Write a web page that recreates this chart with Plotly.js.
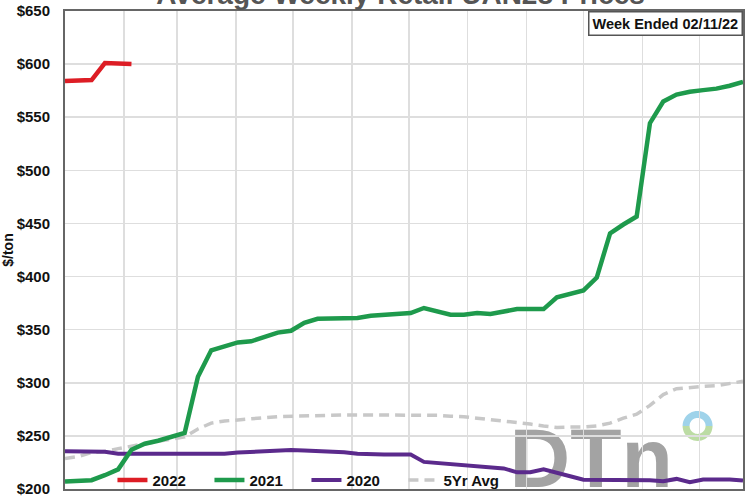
<!DOCTYPE html>
<html>
<head>
<meta charset="utf-8">
<script src="https://cdn.plot.ly/plotly-3.0.1.min.js"></script>
<style>html,body{margin:0;padding:0;background:#fff;}#chart{width:750px;height:500px;}</style>
</head>
<body>
<div id="chart"></div>
<script>
// Week numbers (week 1 .. week 52)
var weeks = [];
for (var i = 1; i <= 52; i++) weeks.push(i);

// Month start days (day of year) -> week units for vertical gridlines
var monthStartDays = [31, 59, 90, 120, 151, 181, 212, 243, 273, 304, 334];

var prices2022 = [584, 584, 585, 601, 600, 600];

var prices2021 = [207, 207.5, 208.3, 213, 218.5, 237, 242.6, 245.4, 249, 252.8,
  305.6, 330.6, 334.3, 338, 339, 343.5, 347.2, 349, 356.5, 360.2,
  360.2, 360.2, 361, 363, 364, 364.8, 365.7, 370.4, 366.7, 364,
  364, 365.7, 364.8, 367.6, 369.4, 369.4, 369.4, 380.5, 383.3, 387,
  399, 440.7, 449, 456.5, 544.4, 564.8, 571.3, 574, 575.5, 576.9,
  579.6, 583.3];

var prices2020 = [235.6, 235.6, 235.6, 235, 233.3, 233.3, 233.3, 233.3, 233.3, 233.3,
  233.3, 233.3, 233.3, 234.3, 235, 235.6, 236.6, 236.8, 236.3, 236,
  235.6, 234.7, 233.3, 232.4, 232.4, 232.4, 232.4, 225.5, 224.5, 223.1,
  222.5, 221.8, 220.8, 219.4, 215.7, 215.7, 218.5, 215.7, 212, 208.8,
  208.8, 209, 209, 208.8, 208.3, 207.4, 209.5, 206.5, 209, 209,
  209, 207.9];

var avg5yr = [228.7, 230.6, 234.3, 235.2, 238, 240.7, 242.6, 244.9, 246.8, 249,
  256.5, 262, 264, 264.8, 266.2, 267.1, 268.1, 268.5, 269, 269.4,
  269.7, 269.7, 269.7, 269.7, 269.7, 269.7, 269.7, 269.7, 269.4, 268.5,
  268.1, 266.7, 265.3, 264, 263, 261.1, 259.3, 257.9, 258.3, 258.3,
  259.3, 262, 266.7, 270.4, 278.7, 288.9, 294.4, 295.8, 296.6, 297.2,
  299.1, 301.4];

var yTicks = [200, 250, 300, 350, 400, 450, 500, 550, 600, 650];
var yTickText = yTicks.map(function (v) { return '$' + v; });
var monthTicks = monthStartDays.map(function (d) { return d / 7 + 1; });

var FONT = 'Liberation Sans, Arial, sans-serif';

var traces = [
  {x: weeks, y: avg5yr, name: '5Yr Avg', type: 'scatter', mode: 'lines',
   line: {color: '#c8c8c8', width: 3.5, dash: '10px,6px'}},
  {x: weeks, y: prices2020, name: '2020', type: 'scatter', mode: 'lines',
   line: {color: '#5b2a8c', width: 4}},
  {x: weeks, y: prices2021, name: '2021', type: 'scatter', mode: 'lines',
   line: {color: '#1e9a4c', width: 4.5}},
  {x: weeks.slice(0, prices2022.length), y: prices2022, name: '2022', type: 'scatter', mode: 'lines',
   line: {color: '#dd1d25', width: 4.5}}
];

// ring logo path (pixel-sized, decorative)
function halfRing(top) {
  var ro = 15, ri = 8, n = 24, p = '', k, a, s = top ? 1 : -1;
  for (k = 0; k <= n; k++) {
    a = Math.PI * k / n;
    p += (k === 0 ? 'M' : 'L') + (ro * Math.cos(a)).toFixed(2) + ',' + (s * ro * Math.sin(a)).toFixed(2);
  }
  for (k = n; k >= 0; k--) {
    a = Math.PI * k / n;
    p += 'L' + (ri * Math.cos(a)).toFixed(2) + ',' + (s * ri * Math.sin(a)).toFixed(2);
  }
  return p + 'Z';
}

var layout = {
  width: 750, height: 500,
  margin: {l: 65, r: 7, t: 11, b: 3},
  paper_bgcolor: '#ffffff', plot_bgcolor: '#ffffff',
  font: {family: FONT, color: '#111'},
  title: {
    text: 'Average Weekly Retail UAN28 Prices',
    font: {family: FONT, size: 28, weight: 'bold', color: '#555'},
    x: 0.534, xanchor: 'center', xref: 'container',
    y: 0.993, yanchor: 'bottom', yref: 'container'
  },
  showlegend: true,
  legend: {
    orientation: 'h', x: 0.07, xanchor: 'left', y: 0.0185, yanchor: 'middle',
    bgcolor: 'rgba(0,0,0,0)', traceorder: 'reversed',
    font: {family: FONT, size: 15, weight: 'bold', color: '#111'},
    entrywidth: 52, entrywidthmode: 'pixels'
  },
  xaxis: {
    range: [1, 52], tickmode: 'array', tickvals: monthTicks, showticklabels: false,
    showgrid: true, gridcolor: '#dedede', gridwidth: 1.5, zeroline: false,
    showline: true, linecolor: '#666', linewidth: 2, mirror: true, ticks: ''
  },
  yaxis: {
    range: [200, 650], tickmode: 'array', tickvals: yTicks, ticktext: yTickText,
    showgrid: true, gridcolor: '#dedede', gridwidth: 1.5, zeroline: false,
    showline: true, linecolor: '#666', linewidth: 2, mirror: true,
    ticks: '', ticklabelstandoff: 10,
    tickfont: {family: FONT, size: 15, weight: 'bold', color: '#111'},
    title: {text: '$/ton', standoff: 4, font: {family: FONT, size: 14, weight: 'bold', color: '#111'}}
  },
  annotations: [
    {text: 'Week Ended 02/11/22', xref: 'paper', yref: 'paper', x: 1, y: 1,
     xanchor: 'right', yanchor: 'top', showarrow: false,
     font: {family: FONT, size: 14.5, weight: 'bold', color: '#111'},
     bgcolor: '#ffffff', bordercolor: '#555', borderwidth: 1.5, borderpad: 3}
  ],
  shapes: [
    {type: 'rect', xref: 'paper', yref: 'paper', x0: 0.655, x1: 0.897, y0: 0.012, y1: 0.152,
     layer: 'below', line: {width: 0}, fillcolor: 'rgba(0,0,0,0)',
     label: {text: '<b>DTn</b>', textposition: 'middle center',
             font: {family: 'Liberation Sans Narrow, Liberation Sans, Arial, sans-serif', size: 84, weight: 700, color: '#a3a3a3'}}},
    {type: 'path', xref: 'paper', yref: 'paper', xsizemode: 'pixel', ysizemode: 'pixel',
     xanchor: 0.933, yanchor: 0.132, path: halfRing(true), line: {width: 0}, fillcolor: '#9fd3ea', layer: 'below'},
    {type: 'path', xref: 'paper', yref: 'paper', xsizemode: 'pixel', ysizemode: 'pixel',
     xanchor: 0.933, yanchor: 0.132, path: halfRing(false), line: {width: 0}, fillcolor: '#bcdca4', layer: 'below'}
  ]
};

Plotly.newPlot('chart', traces, layout, {displayModeBar: false, staticPlot: true});
</script>
</body>
</html>
